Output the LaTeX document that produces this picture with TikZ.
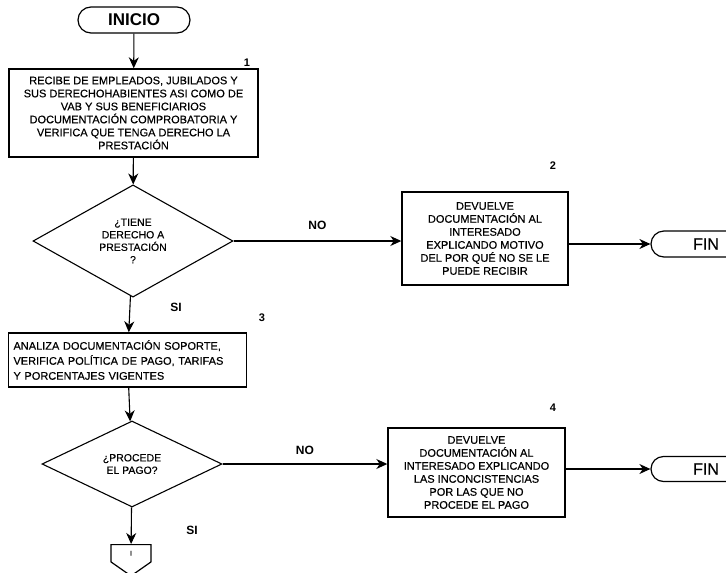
\documentclass[tikz,border=0pt]{standalone}
\usepackage{fontspec}
\setmainfont{Liberation Sans}
\newfontfamily\escaneo{Liberation Sans}[FakeBold=0.35]
\usetikzlibrary{arrows.meta,shapes.geometric,shapes.misc,shapes.symbols}

\begin{document}
\begin{tikzpicture}[x=1pt, y=-1pt,
    line width=1.1pt,
    >={Stealth[length=11pt,width=10pt,inset=3.5pt]},
    caja/.style={draw, line width=1.4pt, rectangle, align=center, inner sep=2pt,
      font=\escaneo\fontsize{11}{13}\selectfont},
    decision/.style={draw, diamond, inner sep=0pt, align=center,
      font=\escaneo\fontsize{10.5}{12.5}\selectfont},
    terminal/.style={draw, rounded rectangle, line width=1.2pt, inner sep=0pt},
    etiq/.style={font=\fontsize{12}{14}\selectfont\bfseries},
    num/.style={font=\fontsize{11}{13}\selectfont\bfseries}]
    \useasboundingbox (0,0) rectangle (726,573);
    \clip (0,0) rectangle (726,573);

    \node[terminal, minimum width=112pt, minimum height=26pt,
      font=\fontsize{17}{20}\selectfont\bfseries] (inicio) at (134,20) {INICIO};

    \node[caja, minimum width=249pt, minimum height=88pt] (p1) at (133.5,113)
      {RECIBE DE EMPLEADOS, JUBILADOS Y\\ SUS DERECHOHABIENTES ASI COMO DE\\
       VAB Y SUS BENEFICIARIOS\\ DOCUMENTACIÓN COMPROBATORIA Y\\
       VERIFICA QUE TENGA DERECHO LA\\ PRESTACIÓN};
    \node[num] (n1) at (247,63) {1};

    \node[decision, minimum width=200pt, minimum height=104pt] (d1) at (133,241)
      {¿TIENE\\ DERECHO A\\ PRESTACIÓN\\ ?};

    \node[caja, minimum width=166pt, minimum height=93pt] (p2) at (485,238.5)
      {DEVUELVE\\ DOCUMENTACIÓN AL\\ INTERESADO\\ EXPLICANDO MOTIVO\\
       DEL POR QUÉ NO SE LE\\ PUEDE RECIBIR};
    \node[num] (n2) at (553,166) {2};
    \node[terminal, minimum width=110pt, minimum height=26pt,
      font=\escaneo\fontsize{16}{19}\selectfont] (fin1) at (706,244) {FIN};

    \node[caja, minimum height=54pt, text width=228pt, align=left, inner sep=5pt,
      font=\escaneo\fontsize{11}{15}\selectfont] (p3) at (127.5,360)
      {ANALIZA DOCUMENTACIÓN SOPORTE,\\ VERIFICA POLÍTICA DE PAGO, TARIFAS\\
       Y PORCENTAJES VIGENTES};
    \node[num] (n3) at (262,318) {3};

    \node[decision, minimum width=180pt, minimum height=86pt] (d2) at (132,464)
      {¿PROCEDE\\ EL PAGO?};

    \node[caja, minimum width=177pt, minimum height=89pt] (p4) at (476.5,472.5)
      {DEVUELVE\\ DOCUMENTACIÓN AL\\ INTERESADO EXPLICANDO\\ LAS INCONCISTENCIAS\\
       POR LAS QUE NO\\ PROCEDE EL PAGO};
    \node[num] (n4) at (553,408) {4};
    \node[terminal, minimum width=110pt, minimum height=25pt,
      font=\escaneo\fontsize{16}{19}\selectfont] (fin2) at (706,469) {FIN};

    \node[draw, signal, signal to=south, signal pointer angle=110, line width=1.2pt,
      minimum width=40pt, minimum height=18pt, inner sep=0pt,
      font=\escaneo\fontsize{7}{8}\selectfont, anchor=north] (con) at (131,544) {I};

    \draw (inicio) edge[->] (p1);
    \draw (p1) edge[->] (d1);
    \draw (d1.east) edge[->] node[etiq, above=8pt] {NO} (d1.east -| p2.west);
    \draw (p2.east |- fin1.west) edge[->] (fin1.west);
    \draw (d1) edge[->] (p3);
    \node[etiq] (si1) at (176,307) {SI};
    \draw (p3) edge[->] (d2);
    \draw (d2.east) edge[->] node[etiq, above=6pt] {NO} (d2.east -| p4.west);
    \draw (p4.east |- fin2.west) edge[->] (fin2.west);
    \draw (d2) edge[->] (con);
    \node[etiq] (si2) at (192,530) {SI};
  \end{tikzpicture}
\end{document}
